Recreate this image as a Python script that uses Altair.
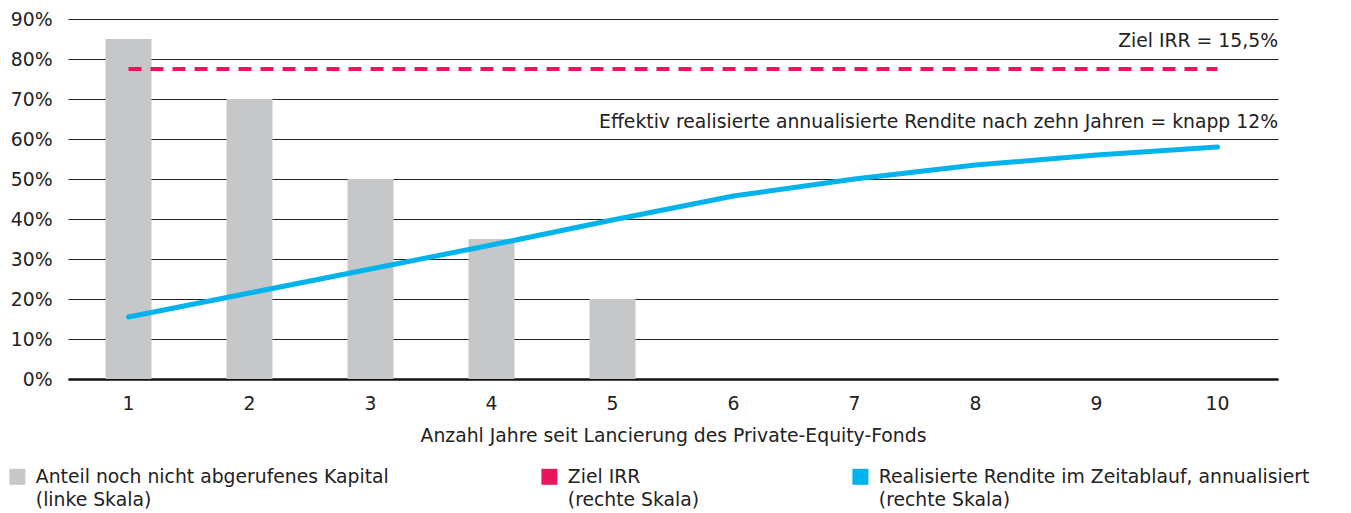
import altair as alt
import pandas as pd

years = [1, 2, 3, 4, 5, 6, 7, 8, 9, 10]
bar_years = [1, 2, 3, 4, 5]
uncalled = [0.85, 0.70, 0.50, 0.35, 0.20]
realized = [0.031, 0.043, 0.055, 0.067, 0.0795, 0.0915, 0.100, 0.107, 0.112, 0.116]
target_irr = 0.155
series = ["Anteil noch nicht abgerufenes Kapital\n(linke Skala)",
          "Ziel IRR\n(rechte Skala)",
          "Realisierte Rendite im Zeitablauf, annualisiert\n(rechte Skala)"]
colors = ["#c6c7c9", "#e8175d", "#00b3ec"]
note_irr = "Ziel IRR = 15,5%"
note_real = "Effektiv realisierte annualisierte Rendite nach zehn Jahren = knapp 12%"
x_title = "Anzahl Jahre seit Lancierung des Private-Equity-Fonds"

FONT = "DejaVu Sans"
FS = 18.8
W, H = 1210, 360

df_bar = pd.DataFrame({"year": bar_years, "v": uncalled, "s": series[0]})
df_line = pd.DataFrame({"year": years, "v": realized})
df_rule = pd.DataFrame({"y1": [years[0]], "y2": [years[-1]], "v": [target_irr]})
df_notes = pd.DataFrame({"t": [note_irr, note_real], "v": [0.169, 0.1285]})

xscale = alt.Scale(domain=years, paddingInner=0.62, paddingOuter=0.31)
xaxis = alt.Axis(title=x_title, labelAngle=0, ticks=False, domain=True,
                 domainColor="#111", domainWidth=2.5, labelPadding=15,
                 titlePadding=14, labelFontSize=FS, titleFontSize=FS,
                 titleFontWeight="normal", labelColor="#222", titleColor="#222")

bars = alt.Chart(df_bar).mark_bar(color=colors[0]).encode(
    x=alt.X("year:O", scale=xscale, axis=xaxis),
    y=alt.Y("v:Q", scale=alt.Scale(domain=[0, 0.9]),
            axis=alt.Axis(format=".0%", values=[i / 10 for i in range(10)],
                          orient="left", title=None, ticks=False, domain=False,
                          grid=True, gridColor="#222", gridWidth=1.2,
                          labelPadding=16, labelFontSize=FS, labelColor="#222")),
    color=alt.Color("s:N", scale=alt.Scale(domain=series, range=colors),
                    legend=alt.Legend(title=None, orient="none", legendX=-60, legendY=448,
                                      direction="horizontal", columns=3, columnPadding=151,
                                      symbolType="square", symbolSize=256, symbolStrokeWidth=0,
                                      labelFontSize=FS, labelOffset=9, labelLimit=700,
                                      labelColor="#222", labelBaseline="middle",
                                      labelExpr="split(datum.label, '\\n')")),
)

yr = alt.Scale(domain=[0, 0.18])

line = alt.Chart(df_line).mark_line(color=colors[2], strokeWidth=5, strokeCap="round").encode(
    x=alt.X("year:O", scale=xscale, axis=xaxis),
    y=alt.Y("v:Q", scale=yr,
            axis=alt.Axis(format=".0%", values=[i / 50 for i in range(10)], orient="right",
                          title=None, ticks=False, domain=False, grid=False,
                          labelPadding=18, labelFontSize=FS, labelColor="#222")),
)

rule = alt.Chart(df_rule).mark_rule(color=colors[1], strokeWidth=4, strokeDash=[13, 9]).encode(
    x=alt.X("y1:O", scale=xscale, axis=xaxis),
    x2="y2:O",
    y=alt.Y("v:Q", scale=yr, axis=None),
)

notes = alt.Chart(df_notes).mark_text(align="right", baseline="middle", fontSize=FS,
                                      font=FONT, color="#222").encode(
    x=alt.value(W),
    y=alt.Y("v:Q", scale=yr, axis=None),
    text="t:N",
)

right = alt.layer(rule, line, notes)

chart = alt.layer(bars, right).resolve_scale(y="independent").properties(
    width=W, height=H, padding={"left": 0, "top": 2, "right": 5, "bottom": 5}
).configure(font=FONT, style={"guide-label": {"lineHeight": 23}}).configure_view(stroke=None)

chart.save("out.html", embed_options={"renderer": "svg", "actions": False})
